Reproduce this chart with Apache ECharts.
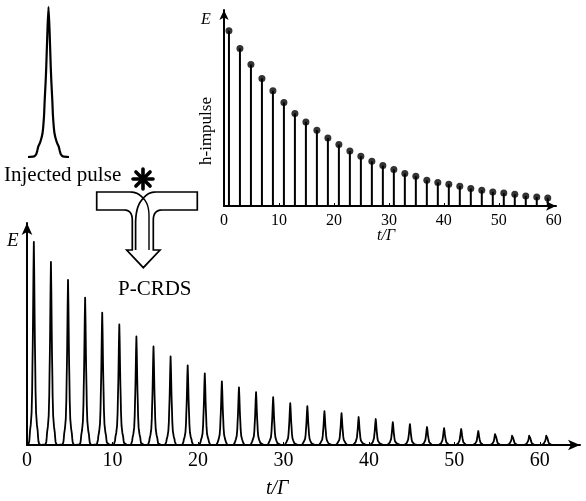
<!DOCTYPE html>
<html>
<head>
<meta charset="utf-8">
<style>
  html, body { margin: 0; padding: 0; background: #fff; }
  #chart { width: 586px; height: 501px; }
</style>
<script src="https://cdn.jsdelivr.net/npm/echarts@6/dist/echarts.min.js"></script>
</head>
<body>
<div id="chart"></div>
<script>
// Shape of a single injected pulse: offset from centre (in half-spans) and relative height
const pulseOffsets = [-1, -0.7, -0.6, -0.55, -0.5, -0.4, -0.29, -0.22, -0.185, -0.14, -0.11, -0.05, 0,
                      0.05, 0.11, 0.14, 0.185, 0.22, 0.29, 0.4, 0.5, 0.55, 0.6, 0.7, 1];
const pulseLevels  = [0, 0.004, 0.018, 0.04, 0.069, 0.1, 0.16, 0.27, 0.38, 0.5, 0.6, 0.85, 1,
                      0.85, 0.6, 0.5, 0.38, 0.27, 0.16, 0.1, 0.069, 0.04, 0.018, 0.004, 0];

// Cavity output pulse train (P-CRDS): arrival times (t/Γ) and peak energies
const trainTimes = [0.8, 2.8, 4.8, 6.8, 8.8, 10.8, 12.8, 14.8, 16.8, 18.8, 20.8, 22.8, 24.8, 26.8, 28.8,
                    30.8, 32.8, 34.8, 36.8, 38.8, 40.8, 42.8, 44.8, 46.8, 48.8, 50.8, 52.8, 54.8, 56.8, 58.8, 60.8];
const trainPeaks = [91.5, 82.5, 74.4, 66.4, 59.6, 54.3, 48.9, 44.4, 39.9, 35.9, 32.3, 28.7, 26.0, 23.8, 21.5,
                    18.8, 17.5, 15.2, 14.3, 12.6, 11.7, 10.3, 9.4, 8.1, 7.6, 7.2, 6.3, 5.8, 4.9, 4.9, 4.9];
const trainHalfSpan = 0.9;

// Cavity impulse response (h-impulse): times and amplitudes
const impulseTimes = [0.9, 2.9, 4.9, 6.9, 8.9, 10.9, 12.9, 14.9, 16.9, 18.9, 20.9, 22.9, 24.9, 26.9, 28.9,
                      30.9, 32.9, 34.9, 36.9, 38.9, 40.9, 42.9, 44.9, 46.9, 48.9, 50.9, 52.9, 54.9, 56.9, 58.9];
const impulseValues = [89.4, 80.4, 72.2, 65.1, 58.8, 52.8, 47.2, 42.9, 38.7, 34.7, 31.4, 28.1, 25.4, 22.8, 20.6,
                       18.6, 16.6, 15.2, 13.1, 12.0, 11.1, 10.1, 8.9, 8.0, 7.2, 6.6, 6.0, 5.1, 4.6, 4.1];

// Axis tick labels
const tickLabels = [0, 10, 20, 30, 40, 50, 60];
const tickMarks = [10, 20, 30, 40, 50, 60];

const serif = '"Liberation Serif", "Times New Roman", serif';

// Injected pulse outline
const injectedData = pulseOffsets.map((o, j) => [o, pulseLevels[j]]);

// Pulse train: each cavity pulse is the injected pulse shape scaled by its peak
const trainData = [];
trainTimes.forEach((t, i) => {
  pulseOffsets.forEach((o, j) => {
    trainData.push([t + o * trainHalfSpan, trainPeaks[i] * pulseLevels[j]]);
  });
});

const impulseData = impulseTimes.map((t, i) => [t, impulseValues[i]]);

// Sample a quadratic curve into polyline points (for the arrow outline)
function quad(p0, c, p1, n) {
  const pts = [];
  for (let k = 1; k <= n; k++) {
    const s = k / n, u = 1 - s;
    pts.push([u * u * p0[0] + 2 * u * s * c[0] + s * s * p1[0],
              u * u * p0[1] + 2 * u * s * c[1] + s * s * p1[1]]);
  }
  return pts;
}

const cusp = [143.3, 198.3];
const arrowOutline = [cusp]
  .concat(quad(cusp, [138, 192], [130, 192], 8))
  .concat([[96.7, 192], [96.7, 210], [124, 210]])
  .concat(quad([124, 210], [132.3, 210], [132.3, 220], 8))
  .concat([[132.3, 250], [126.7, 250], [143.3, 267.7], [160, 250], [153.3, 250], [153.3, 220]])
  .concat(quad([153.3, 220], [153.3, 210], [162, 210], 8))
  .concat([[197.3, 210], [197.3, 192], [156, 192]])
  .concat(quad([156, 192], [148, 192], cusp, 8));
const innerLeft = [cusp].concat(quad(cusp, [136, 205], [135.6, 222], 10)).concat([[135.6, 250]]);
const innerRight = [cusp].concat(quad(cusp, [149, 204], [149, 216], 10)).concat([[149, 250]]);

const axisLineStyle = { color: '#000', width: 2 };

const chart = echarts.init(document.getElementById('chart'), null, { renderer: 'canvas' });

chart.setOption({
  animation: false,
  backgroundColor: '#fff',
  grid: [
    // main pulse train
    { left: 27, right: 6, top: 223, bottom: 56 },
    // impulse response inset
    { left: 224, right: 30, top: 10, bottom: 295 },
    // injected pulse
    { left: 28, width: 41, top: 7, height: 150 }
  ],
  xAxis: [
    {
      gridIndex: 0, type: 'value', min: 0, max: 64.7,
      axisLine: { lineStyle: axisLineStyle, symbol: ['none', 'arrow'], symbolSize: [8, 12] },
      axisTick: { show: true, inside: true, length: 3, customValues: tickMarks, lineStyle: { color: '#000', width: 1 } },
      axisLabel: { customValues: tickLabels, color: '#000', fontFamily: serif, fontSize: 20, margin: 6 },
      splitLine: { show: false }
    },
    {
      gridIndex: 1, type: 'value', min: 0, max: 60.4,
      axisLine: { lineStyle: axisLineStyle, symbol: ['none', 'arrow'], symbolSize: [7, 10] },
      axisTick: { show: true, inside: true, length: 3, customValues: tickMarks.slice(0, 5), lineStyle: { color: '#000', width: 1 } },
      axisLabel: { customValues: tickLabels, color: '#000', fontFamily: serif, fontSize: 16, margin: 7 },
      splitLine: { show: false }
    },
    {
      gridIndex: 2, type: 'value', min: -1, max: 1, show: false
    }
  ],
  yAxis: [
    {
      gridIndex: 0, type: 'value', min: 0, max: 100,
      axisLine: { show: true, lineStyle: axisLineStyle, symbol: ['none', 'arrow'], symbolSize: [8, 12] },
      axisTick: { show: false }, axisLabel: { show: false }, splitLine: { show: false }
    },
    {
      gridIndex: 1, type: 'value', min: 0, max: 100,
      axisLine: { show: true, lineStyle: axisLineStyle, symbol: ['none', 'arrow'], symbolSize: [7, 10] },
      axisTick: { show: false }, axisLabel: { show: false }, splitLine: { show: false }
    },
    {
      gridIndex: 2, type: 'value', min: 0, max: 1, show: false
    }
  ],
  series: [
    {
      type: 'line', xAxisIndex: 0, yAxisIndex: 0, data: trainData,
      showSymbol: false, smooth: false,
      lineStyle: { color: '#000', width: 1.8, join: 'round' }, z: 1
    },
    {
      type: 'bar', xAxisIndex: 1, yAxisIndex: 1, data: impulseData,
      barWidth: 2, itemStyle: { color: '#000' }, z: 1
    },
    {
      type: 'scatter', xAxisIndex: 1, yAxisIndex: 1, data: impulseData,
      symbol: 'circle', symbolSize: 7, itemStyle: { color: '#000' }, z: 2
    },
    {
      type: 'line', xAxisIndex: 2, yAxisIndex: 2, data: injectedData,
      showSymbol: false, smooth: 0.2,
      lineStyle: { color: '#000', width: 2.2, join: 'round' }
    }
  ],
  graphic: [
    // axis titles
    { type: 'text', x: 7, y: 231, style: { text: 'E', font: 'italic 19px ' + serif, fill: '#000' } },
    { type: 'text', x: 266, y: 479, style: { text: 't/Γ', font: 'italic 20px ' + serif, fill: '#000' } },
    { type: 'text', x: 201, y: 12, style: { text: 'E', font: 'italic 16px ' + serif, fill: '#000' } },
    { type: 'text', x: 377, y: 228, style: { text: 't/Γ', font: 'italic 16px ' + serif, fill: '#000' } },
    {
      type: 'text', x: 207, y: 131, rotation: Math.PI / 2,
      style: { text: 'h-impulse', font: '17px ' + serif, fill: '#000', align: 'center', verticalAlign: 'middle' }
    },
    // diagram labels
    { type: 'text', x: 4, y: 165, style: { text: 'Injected pulse', font: '21px ' + serif, fill: '#000' } },
    { type: 'text', x: 118, y: 279, style: { text: 'P-CRDS', font: '21px ' + serif, fill: '#000' } },
    // convolution sign
    {
      type: 'group', x: 143, y: 179,
      children: [0, 45, 90, 135].map(a => ({
        type: 'line',
        rotation: a * Math.PI / 180,
        shape: { x1: -10, y1: 0, x2: 10, y2: 0 },
        style: { stroke: '#000', lineWidth: 3.6, lineCap: 'round' }
      })).concat([{ type: 'circle', shape: { cx: 0, cy: 0, r: 4 }, style: { fill: '#000' } }])
    },
    // merging T-shaped arrow
    {
      type: 'polygon',
      shape: { points: arrowOutline },
      style: { fill: '#fff', stroke: '#000', lineWidth: 1.7 }
    },
    {
      type: 'polyline',
      shape: { points: innerLeft },
      style: { fill: null, stroke: '#000', lineWidth: 1.7 }
    },
    {
      type: 'polyline',
      shape: { points: innerRight },
      style: { fill: null, stroke: '#000', lineWidth: 1.4 }
    }
  ]
});
</script>
</body>
</html>
